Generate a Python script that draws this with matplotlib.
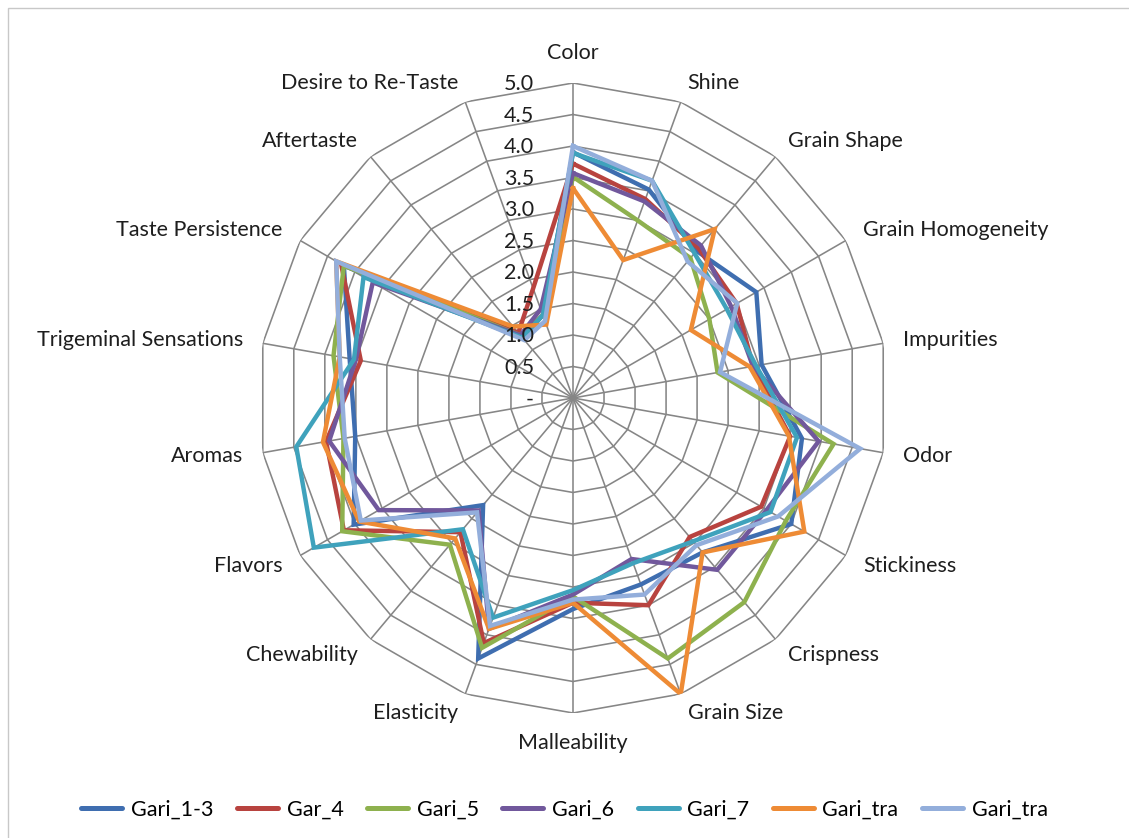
import numpy as np
import matplotlib
matplotlib.use("Agg")
import matplotlib.pyplot as plt
from matplotlib.patches import Rectangle

plt.rcParams["font.family"] = ["Lato", "DejaVu Sans"]

# sensory attributes, clockwise from the top
categories = ["Color", "Shine", "Grain Shape", "Grain Homogeneity", "Impurities",
              "Odor", "Stickiness", "Crispness", "Grain Size", "Malleability",
              "Elasticity", "Chewability", "Flavors", "Aromas",
              "Trigeminal Sensations", "Taste Persistence", "Aftertaste",
              "Desire to Re-Taste"]

gari_1_3 = [3.90, 3.52, 3.05, 3.36, 3.04, 3.69, 4.00, 3.20, 3.15, 3.35, 4.40, 2.22,
            4.02, 3.51, 3.60, 4.20, 1.25, 1.40]
gar_4 = [3.72, 3.36, 3.10, 3.00, 2.90, 3.50, 3.45, 2.88, 3.50, 3.25, 4.14, 2.78,
         4.20, 3.98, 3.42, 4.25, 1.35, 1.85]
gari_5 = [3.51, 3.00, 2.90, 2.50, 2.33, 4.20, 3.90, 4.23, 4.40, 3.15, 4.22, 3.04,
          4.23, 3.70, 3.86, 4.20, 1.30, 1.40]
gari_6 = [3.57, 3.32, 3.16, 2.90, 2.90, 3.96, 3.55, 3.56, 2.72, 3.12, 3.90, 2.33,
          3.56, 3.93, 3.50, 3.67, 1.30, 1.50]
gari_7 = [3.89, 3.67, 3.00, 2.82, 2.95, 3.61, 3.62, 2.97, 2.79, 3.05, 3.71, 2.72,
          4.75, 4.46, 3.53, 3.84, 1.25, 1.40]
gari_tra_a = [3.33, 2.33, 3.50, 2.16, 2.85, 3.48, 4.24, 3.20, 5.00, 3.25, 3.90, 2.91,
              3.92, 4.03, 3.76, 4.34, 1.48, 1.24]
gari_tra_b = [4.00, 3.67, 2.83, 3.01, 2.37, 4.63, 3.76, 3.05, 3.32, 3.20, 3.85, 2.37,
              3.89, 3.68, 3.76, 4.34, 1.20, 1.30]

series_names = ["Gari_1-3", "Gar_4", "Gari_5", "Gari_6", "Gari_7", "Gari_tra", "Gari_tra"]
series_values = [gari_1_3, gar_4, gari_5, gari_6, gari_7, gari_tra_a, gari_tra_b]
series_colors = ["#3F6EB0", "#B8433F", "#8EB14E", "#71589C", "#3FA2BC", "#EE8B35", "#93AEDB"]

ring_levels = [0.5, 1.0, 1.5, 2.0, 2.5, 3.0, 3.5, 4.0, 4.5, 5.0]
tick_levels = [0.0] + ring_levels
tick_labels = ["-"] + [f"{v:.1f}" for v in ring_levels]

n = len(categories)
angles = np.arange(n) * 2 * np.pi / n
closed = np.append(angles, angles[0])

fig = plt.figure(figsize=(11.29, 8.38), dpi=100)
fig.patches.append(Rectangle((8 / 1129, -0.1), 1.2, 1 - 8 / 838 + 0.1,
                             transform=fig.transFigure, fill=False,
                             edgecolor="#C8C8C8", linewidth=1.0))

ax = fig.add_axes([258 / 1129, 125 / 838, 630 / 1129, 630 / 838], projection="polar")
ax.set_theta_zero_location("N")
ax.set_theta_direction(-1)
ax.set_ylim(0, 5)
ax.grid(False)
ax.set_xticks([])
ax.set_yticks([])
ax.spines["polar"].set_visible(False)
ax.patch.set_visible(False)

# polygon rings and spokes
grid_col = "#868686"
for r in ring_levels:
    ax.plot(closed, [r] * len(closed), color=grid_col, lw=1.15, zorder=1)
for a in angles:
    ax.plot([a, a], [0, 5], color=grid_col, lw=1.15, zorder=1)

for name, vals, col in zip(series_names, series_values, series_colors):
    ax.plot(closed, vals + vals[:1], color=col, lw=3.2, label=name,
            solid_joinstyle="miter", zorder=3)

fs = 15.5
txt_col = "#1E1E1E"
for a, lab in zip(angles, categories):
    s = np.sin(a)
    c = np.cos(a)
    if abs(s) < 0.01:
        ha = "center"
        va = "bottom" if c > 0 else "top"
    else:
        ha = "left" if s > 0 else "right"
        va = "center"
    ax.text(a, 5.32, lab, ha=ha, va=va, fontsize=fs, color=txt_col)

for r, lab in zip(tick_levels, tick_labels):
    ax.annotate(lab, xy=(0, r), xytext=(-28, -1), textcoords="offset points",
                ha="right", va="center", fontsize=fs, color=txt_col)

leg = fig.legend(loc="center", bbox_to_anchor=(0.5, 1 - 810 / 838), ncol=7,
                 frameon=False, fontsize=fs, handlelength=1.9, handletextpad=0.4,
                 columnspacing=1.1)
for h in leg.get_lines():
    h.set_linewidth(3.6)
    h.set_solid_capstyle("round")

fig.savefig("out.png", dpi=100)
